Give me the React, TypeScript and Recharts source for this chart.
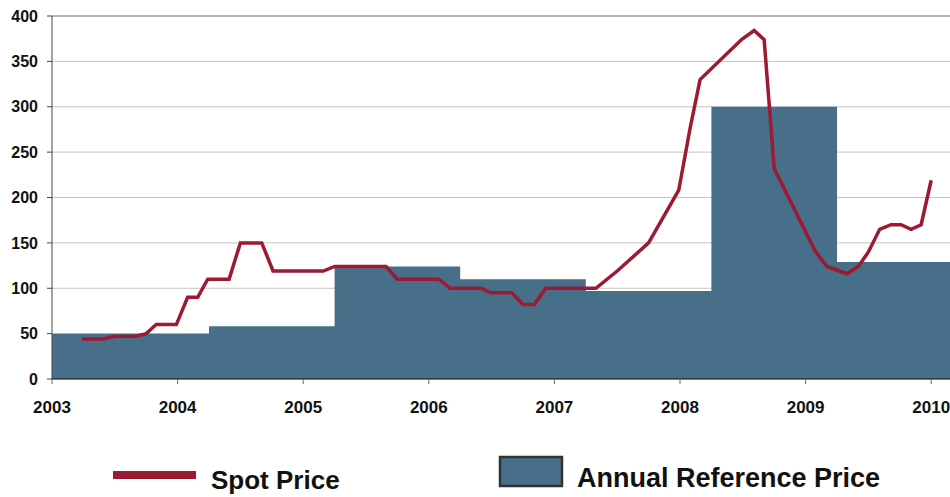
import {
  ComposedChart,
  Area,
  Line,
  XAxis,
  YAxis,
  CartesianGrid,
  ReferenceLine
} from "recharts";

// axis ticks
const yearTicks = [2003, 2004, 2005, 2006, 2007, 2008, 2009, 2010];
const priceTicks = [0, 50, 100, 150, 200, 250, 300, 350, 400];

// annual reference price (step starts, value held until next start)
const refStart = [2003, 2004.25, 2005.25, 2006.25, 2007.25, 2008.25, 2009.25, 2010.5];
const refPrice = [50, 58, 124, 110, 97, 300, 129, 129];

// spot price
const spotTime = [
  2003.24, 2003.41, 2003.5, 2003.66, 2003.75, 2003.83, 2003.99, 2004.08, 2004.16,
  2004.24, 2004.41, 2004.5, 2004.67, 2004.76, 2005.16, 2005.25, 2005.66, 2005.75,
  2006.08, 2006.17, 2006.42, 2006.49, 2006.66, 2006.75, 2006.84, 2006.93, 2007.33,
  2007.5, 2007.75, 2007.99, 2008.08, 2008.16, 2008.49, 2008.59, 2008.67, 2008.75,
  2009.08, 2009.17, 2009.33, 2009.42, 2009.5, 2009.59, 2009.68, 2009.76, 2009.84,
  2009.92, 2010.0
];
const spotPrice = [
  44, 44, 47, 47, 50, 60, 60, 90, 90,
  110, 110, 150, 150, 119, 119, 124, 124, 110,
  110, 100, 100, 95, 95, 82, 82, 100, 100,
  119, 150, 208, 276, 330, 374, 384, 374, 232,
  140, 124, 116, 124, 140, 165, 170, 170, 165,
  170, 219
];

const refData = refStart.map((t, i) => ({ t, ref: refPrice[i] }));
const spotData = spotTime.map((t, i) => ({ t, spot: spotPrice[i] }));

const FONT = "'Liberation Sans', Arial, sans-serif";
const BLUE = "#476f89";
const RED = "#9c1a32";

export default function App() {
  return (
    <div
      style={{
        position: "absolute",
        left: 0,
        top: 0,
        width: 950,
        height: 497,
        overflow: "hidden",
        background: "#fff",
        fontFamily: FONT
      }}
    >
      <ComposedChart
        width={1000}
        height={497}
        margin={{ top: 16, right: 6, left: 0, bottom: 88 }}
      >
        <CartesianGrid vertical={false} stroke="#c4c4c4" strokeWidth={1} />
        <XAxis
          type="number"
          dataKey="t"
          domain={[2003, 2010.5]}
          ticks={yearTicks}
          allowDataOverflow
          height={30}
          tickSize={5}
          tickMargin={17}
          stroke="#111"
          tickLine={{ stroke: "#666" }}
          tick={{ fontSize: 17, fontWeight: "bold", fill: "#111", fontFamily: FONT }}
        />
        <YAxis
          type="number"
          domain={[0, 400]}
          ticks={priceTicks}
          width={52}
          tickSize={5}
          tickMargin={9}
          stroke="#444"
          tick={{ fontSize: 16, fontWeight: "bold", fill: "#111", fontFamily: FONT }}
        />
        <ReferenceLine y={400} stroke="#8a8a8a" />
        <Area
          data={refData}
          dataKey="ref"
          type="stepAfter"
          fill={BLUE}
          fillOpacity={1}
          stroke="none"
          isAnimationActive={false}
        />
        <Line
          data={spotData}
          dataKey="spot"
          type="linear"
          stroke={RED}
          strokeWidth={3.5}
          dot={false}
          isAnimationActive={false}
        />
      </ComposedChart>
      <svg
        width={950}
        height={60}
        style={{ position: "absolute", left: 0, top: 437 }}
      >
        <rect x={113} y={34} width={83} height={8} fill={RED} />
        <text x={211} y={52} fontSize={26} fontWeight="bold" fill="#111" fontFamily={FONT}>
          Spot Price
        </text>
        <rect x={500} y={20} width={62} height={29} fill={BLUE} stroke="#333" strokeWidth={2.5} />
        <text x={577} y={50} fontSize={27} fontWeight="bold" fill="#111" fontFamily={FONT}>
          Annual Reference Price
        </text>
      </svg>
    </div>
  );
}
